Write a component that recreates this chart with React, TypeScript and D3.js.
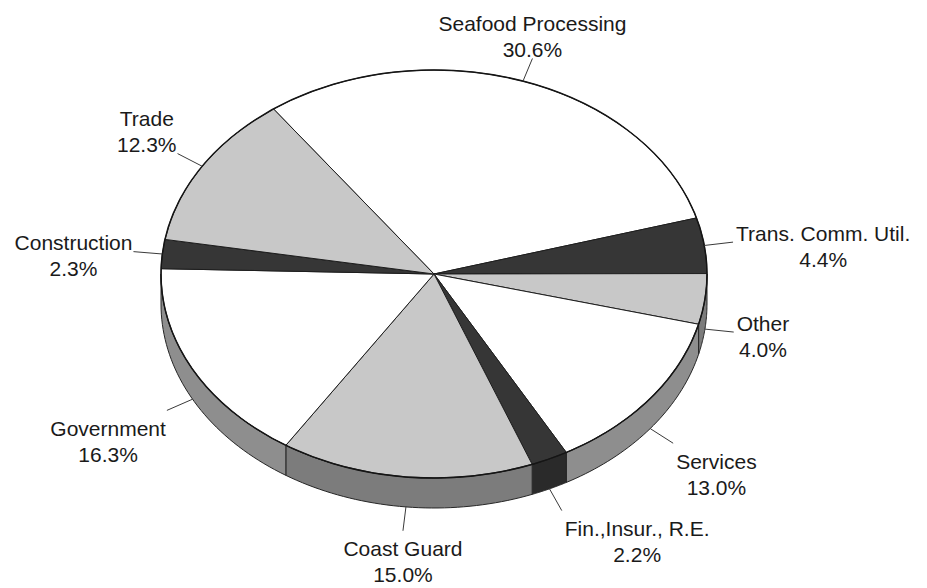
import { useEffect, useRef } from 'react'
import * as d3 from 'd3'

const categories = [
  'Seafood Processing',
  'Trans. Comm. Util.',
  'Other',
  'Services',
  'Fin.,Insur., R.E.',
  'Coast Guard',
  'Government',
  'Construction',
  'Trade',
]
const shares = [30.6, 4.4, 4.0, 13.0, 2.2, 15.0, 16.3, 2.3, 12.3]

// top face / side shading, cycles white - dark - light like the print
const TOP_FILLS = ['#ffffff', '#363636', '#c8c8c8', '#ffffff', '#363636', '#c8c8c8', '#ffffff', '#363636', '#c8c8c8']
const SIDE_FILLS = ['#8e8e8e', '#2a2a2a', '#7c7c7c', '#8e8e8e', '#2a2a2a', '#7c7c7c', '#8e8e8e', '#2a2a2a', '#7c7c7c']

const W = 927
const H = 588
const FONT = '"Liberation Sans", Arial, Helvetica, sans-serif'

export default function App() {
  const ref = useRef<SVGSVGElement | null>(null)

  useEffect(() => {
    if (!ref.current) return
    const svg = d3.select(ref.current)
    svg.selectAll('*').remove()

    const cx = 434
    const cy = 274
    const rx = 273
    const ry = 204
    const depth = 30
    const lrx = 302
    const lry = 228

    const items = categories.map((name, i) => ({ name, value: shares[i], i }))
    const start = (-36 * Math.PI) / 180
    const pie = d3
      .pie<{ name: string; value: number; i: number }>()
      .value((d) => d.value)
      .sort(null)
      .startAngle(start)
      .endAngle(start + 2 * Math.PI)
    const arcs = pie(items)

    const pt = (a: number, dy = 0): [number, number] => [cx + rx * Math.sin(a), cy + dy - ry * Math.cos(a)]
    const line = d3.line().curve(d3.curveLinearClosed)

    // visible side walls (front half only)
    const sides = svg.append('g')
    arcs.forEach((d) => {
      const a0 = Math.max(d.startAngle, Math.PI / 2)
      const a1 = Math.min(d.endAngle, (3 * Math.PI) / 2)
      if (a1 <= a0) return
      const steps = d3.range(0, 41).map((k) => a0 + ((a1 - a0) * k) / 40)
      const pts = [...steps.map((a) => pt(a)), ...steps.slice().reverse().map((a) => pt(a, depth))]
      sides
        .append('path')
        .attr('d', line(pts))
        .attr('fill', SIDE_FILLS[d.data.i])
        .attr('stroke', '#262626')
        .attr('stroke-width', 1)
        .attr('stroke-linejoin', 'round')
    })

    // top face: circular arcs squashed into the ellipse
    const arc = d3.arc<d3.PieArcDatum<{ name: string; value: number; i: number }>>().innerRadius(0).outerRadius(rx)
    const top = svg.append('g').attr('transform', `translate(${cx},${cy}) scale(1,${ry / rx})`)
    top
      .selectAll('path')
      .data(arcs)
      .join('path')
      .attr('d', (d) => arc(d))
      .attr('fill', (d) => TOP_FILLS[d.data.i])
      .attr('stroke', '#1e1e1e')
      .attr('stroke-width', 1)
      .attr('vector-effect', 'non-scaling-stroke')
      .attr('stroke-linejoin', 'round')

    // darker rim around the top face
    top
      .append('circle')
      .attr('r', rx)
      .attr('fill', 'none')
      .attr('stroke', '#151515')
      .attr('stroke-width', 1.5)
      .attr('vector-effect', 'non-scaling-stroke')

    // leaders + labels
    const labels = svg.append('g').attr('font-family', FONT).attr('font-size', 21).attr('fill', '#1a1a1a')
    arcs.forEach((d) => {
      const mid = (d.startAngle + d.endAngle) / 2
      const s = Math.sin(mid)
      const c = Math.cos(mid)
      const base = c > 0 ? cy : cy + depth
      const x0 = cx + rx * s
      const y0 = base - ry * c
      const x1 = cx + lrx * s
      const y1 = base - lry * c

      svg
        .append('line')
        .attr('x1', x0)
        .attr('y1', y0)
        .attr('x2', x1)
        .attr('y2', y1)
        .attr('stroke', '#3a3a3a')
        .attr('stroke-width', 1)

      const texts = [d.data.name, `${d.data.value.toFixed(1)}%`]
      const g = labels.append('g')
      const nodes = texts.map((t) => g.append('text').attr('text-anchor', 'middle').text(t))
      const w = d3.max(nodes, (n) => (n.node() as SVGTextElement).getComputedTextLength()) || 0

      const bx = Math.abs(s) < 0.35 ? x1 : s > 0 ? x1 + 3 + w / 2 : x1 - 1 - w / 2
      const by = (Math.abs(c) < 0.3 ? y1 + 4 : c > 0 ? y1 - 22 : y1 + 31) - 5.5
      nodes.forEach((n, k) => n.attr('x', bx).attr('y', by + k * 26))
    })
  }, [])

  return (
    <svg
      ref={ref}
      width={W}
      height={H}
      style={{ position: 'absolute', left: 0, top: 0, background: '#fff' }}
    />
  )
}
